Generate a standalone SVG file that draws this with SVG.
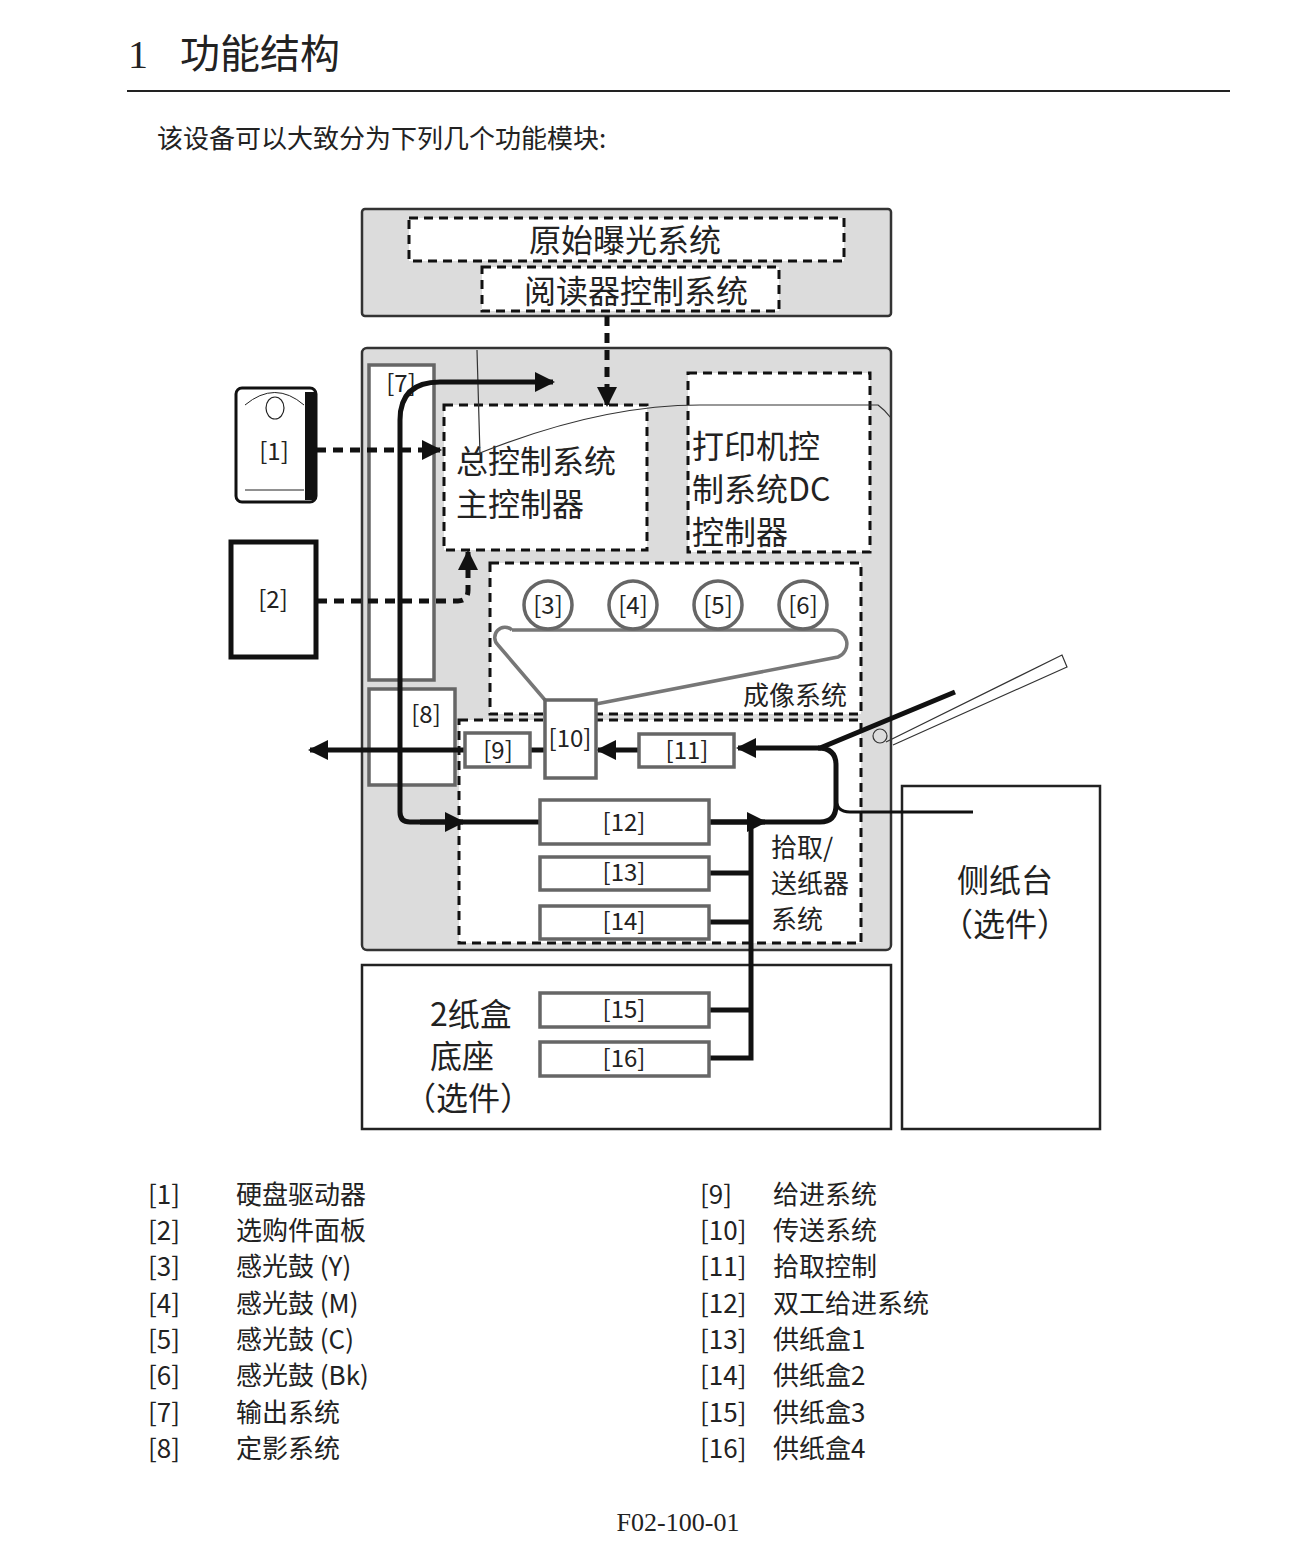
<svg xmlns="http://www.w3.org/2000/svg" width="1294" height="1558" viewBox="0 0 1294 1558">
<defs>
<style>
text{font-family:"Noto Sans CJK SC","Liberation Sans",sans-serif;fill:#222}
.serif{font-family:"Liberation Serif","Noto Sans CJK SC",serif}
.g{fill:#dcdcdc;stroke:#333;stroke-width:2.5}
.d{fill:#fff;stroke:#111;stroke-width:3;stroke-dasharray:9 6}
.m{fill:#fff;stroke:#666;stroke-width:3.5}
.p{fill:none;stroke:#111;stroke-width:5}
.da{fill:none;stroke:#111;stroke-width:5;stroke-dasharray:10 7}
.lb{font-size:24px;text-anchor:middle}
.big{font-size:32px}
.lg{font-size:26px}
</style>
<marker id="ah" viewBox="0 0 10 10" refX="9" refY="5" markerWidth="5" markerHeight="4" markerUnits="strokeWidth" orient="auto"><path d="M0,0L10,5L0,10z" fill="#111"/></marker>
</defs>
<rect width="1294" height="1558" fill="#fff"/>
<g id="title">
<text x="128" y="68" font-size="40" class="serif">1</text>
<text x="180" y="68" font-size="40">功能结构</text>
<line x1="127" y1="91" x2="1230" y2="91" stroke="#222" stroke-width="2"/>
<text x="157" y="148" font-size="26">该设备可以大致分为下列几个功能模块:</text>
</g>
<g id="reader">
<rect class="g" x="362" y="209" width="529" height="107" rx="3"/>
<rect class="d" x="409" y="218" width="435" height="43"/>
<text x="625" y="252" class="big" text-anchor="middle">原始曝光系统</text>
<rect class="d" x="482" y="267" width="297" height="44"/>
<text x="636" y="303" class="big" text-anchor="middle">阅读器控制系统</text>
</g>
<g id="main">
<rect class="g" x="362" y="348" width="529" height="602" rx="5"/>
</g>
<g id="n7"><rect class="m" x="369" y="365" width="65" height="315"/><text x="401" y="392" class="lb">[7]</text></g>
<g id="n8"><rect class="m" x="369" y="689" width="86" height="96"/><text x="426" y="723" class="lb">[8]</text></g>
<g id="mainctrl"><rect class="d" x="444" y="405" width="203" height="145"/>
<text x="456" y="473" class="big">总控制系统</text><text x="456" y="516" class="big">主控制器</text></g>
<g id="dcctrl"><rect class="d" x="688" y="373" width="182" height="179"/>
<text x="692" y="458" class="big">打印机控</text><text x="692" y="501" class="big">制系统DC</text><text x="692" y="544" class="big">控制器</text></g>
<g id="imaging"><rect class="d" x="490" y="563" width="371" height="151"/>
<path d="M512,630 H832 A14,14 0 0 1 838,657 L596,704 M545,700 L498,645 A10,10 0 0 1 512,630" fill="none" stroke="#777" stroke-width="3.5"/>
<circle class="m" cx="548" cy="605" r="24"/><text x="548" y="614" class="lb">[3]</text>
<circle class="m" cx="633" cy="605" r="24"/><text x="633" y="614" class="lb">[4]</text>
<circle class="m" cx="718" cy="605" r="24"/><text x="718" y="614" class="lb">[5]</text>
<circle class="m" cx="803" cy="605" r="24"/><text x="803" y="614" class="lb">[6]</text>
<text x="847" y="705" font-size="26" text-anchor="end">成像系统</text></g>
<g id="pickup"><rect class="d" x="459" y="720" width="402" height="223"/>
<text x="771" y="857" class="lg">拾取/</text><text x="771" y="893" class="lg">送纸器</text><text x="771" y="929" class="lg">系统</text></g>
<g id="bottom"><rect x="362" y="965" width="529" height="164" fill="#fff" stroke="#222" stroke-width="2.5"/>
<text x="430" y="1026" class="big">2纸盒</text><text x="430" y="1068" class="big">底座</text><text x="404" y="1110" class="big">（选件）</text></g>
<g id="side"><rect x="902" y="786" width="198" height="343" fill="#fff" stroke="#222" stroke-width="2.5"/>
<text x="1005" y="892" class="big" text-anchor="middle">侧纸台</text><text x="1005" y="936" class="big" text-anchor="middle">（选件）</text></g>
<g id="tray"><path d="M886,742 L1062,655 L1067,667 L893,745" fill="none" stroke="#333" stroke-width="1.2"/><circle cx="880" cy="736" r="7" fill="none" stroke="#333" stroke-width="1.2"/></g>
<g id="hdd"><rect x="236" y="388" width="80" height="114" rx="6" fill="#fff" stroke="#111" stroke-width="3"/>
<rect x="305" y="392" width="11" height="108" fill="#111"/>
<ellipse cx="275" cy="408" rx="9" ry="11" fill="none" stroke="#222" stroke-width="1.2"/>
<path d="M245,405 Q275,380 304,405 M245,490 H304" fill="none" stroke="#222" stroke-width="1"/>
<text x="274" y="460" class="lb">[1]</text></g>
<g id="n2"><rect x="231" y="542" width="85" height="115" fill="#fff" stroke="#111" stroke-width="5"/><text x="273" y="608" class="lb">[2]</text></g>
<g id="connectors">
<path d="M477,350 L480,455 M480,453 Q600,405 700,405 H878 Q885,410 891,418" fill="none" stroke="#333" stroke-width="1.2"/>
<path class="da" d="M607,316 V405" marker-end="url(#ah)"/>
<path class="da" d="M316,450 H440" marker-end="url(#ah)"/>
<path class="da" d="M317,601 H458 Q468,601 468,590 V552" marker-end="url(#ah)"/>
<path class="p" d="M540,822 H410 Q400,822 400,812 V420 Q400,382 440,382 H553" marker-end="url(#ah)"/>
<path class="p" d="M420,822 H463" marker-end="url(#ah)"/>
<path class="p" d="M955,692 L820,748 H738" marker-end="url(#ah)"/>
<path class="p" d="M639,750 H598" marker-end="url(#ah)"/>
<path class="p" d="M545,750 H530"/>
<path class="p" d="M465,750 H310" marker-end="url(#ah)"/>
<path class="p" d="M818,748 Q836,748 836,765 V805 Q836,822 820,822 H709"/>
<path class="p" d="M709,822 H765" marker-end="url(#ah)"/>
<path d="M836,798 Q836,812 850,812 H973" fill="none" stroke="#111" stroke-width="3"/>
<path class="p" d="M751,822 V1058 H709 M709,873 H751 M709,922 H751 M709,1010 H751"/>
</g>
<g id="n9"><rect class="m" x="465" y="733" width="65" height="34"/><text x="498" y="759" class="lb">[9]</text></g>
<g id="n10"><rect class="m" x="545" y="700" width="51" height="78"/><text x="570" y="747" class="lb">[10]</text></g>
<g id="n11"><rect class="m" x="639" y="734" width="95" height="33"/><text x="687" y="759" class="lb">[11]</text></g>
<g id="n12"><rect class="m" x="540" y="800" width="169" height="44"/><text x="624" y="831" class="lb">[12]</text></g>
<g id="n13"><rect class="m" x="540" y="857" width="169" height="33"/><text x="624" y="881" class="lb">[13]</text></g>
<g id="n14"><rect class="m" x="540" y="906" width="169" height="33"/><text x="624" y="930" class="lb">[14]</text></g>
<g id="n15"><rect class="m" x="540" y="993" width="169" height="34"/><text x="624" y="1018" class="lb">[15]</text></g>
<g id="n16"><rect class="m" x="540" y="1042" width="169" height="34"/><text x="624" y="1067" class="lb">[16]</text></g>
<g id="legend" class="lg">
<text x="148" y="1204" class="lg">[1]</text><text x="236" y="1204" class="lg">硬盘驱动器</text>
<text x="148" y="1240" class="lg">[2]</text><text x="236" y="1240" class="lg">选购件面板</text>
<text x="148" y="1276" class="lg">[3]</text><text x="236" y="1276" class="lg">感光鼓 (Y)</text>
<text x="148" y="1313" class="lg">[4]</text><text x="236" y="1313" class="lg">感光鼓 (M)</text>
<text x="148" y="1349" class="lg">[5]</text><text x="236" y="1349" class="lg">感光鼓 (C)</text>
<text x="148" y="1385" class="lg">[6]</text><text x="236" y="1385" class="lg">感光鼓 (Bk)</text>
<text x="148" y="1422" class="lg">[7]</text><text x="236" y="1422" class="lg">输出系统</text>
<text x="148" y="1458" class="lg">[8]</text><text x="236" y="1458" class="lg">定影系统</text>
<text x="700" y="1204" class="lg">[9]</text><text x="773" y="1204" class="lg">给进系统</text>
<text x="700" y="1240" class="lg">[10]</text><text x="773" y="1240" class="lg">传送系统</text>
<text x="700" y="1276" class="lg">[11]</text><text x="773" y="1276" class="lg">拾取控制</text>
<text x="700" y="1313" class="lg">[12]</text><text x="773" y="1313" class="lg">双工给进系统</text>
<text x="700" y="1349" class="lg">[13]</text><text x="773" y="1349" class="lg">供纸盒1</text>
<text x="700" y="1385" class="lg">[14]</text><text x="773" y="1385" class="lg">供纸盒2</text>
<text x="700" y="1422" class="lg">[15]</text><text x="773" y="1422" class="lg">供纸盒3</text>
<text x="700" y="1458" class="lg">[16]</text><text x="773" y="1458" class="lg">供纸盒4</text>
</g>
<text x="678" y="1531" font-size="26" class="serif" text-anchor="middle">F02-100-01</text>
</svg>
